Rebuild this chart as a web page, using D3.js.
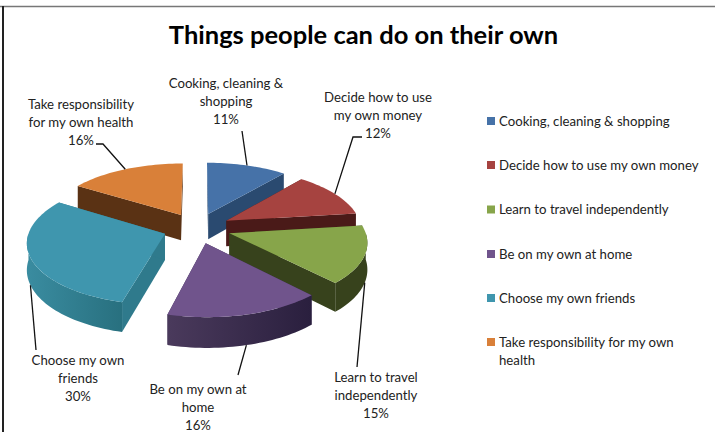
<!DOCTYPE html>
<html><head><meta charset="utf-8">
<script src="https://cdn.jsdelivr.net/npm/d3@7"></script>
<style>html,body{margin:0;padding:0;background:#fff;overflow:hidden}svg{display:block}text{font-family:Lato,"Open Sans",sans-serif;fill:#222}</style>
</head><body><svg id="c" width="715" height="432"></svg>
<script>
const categories = ["Cooking, cleaning & shopping","Decide how to use my own money","Learn to travel independently","Be on my own at home","Choose my own friends","Take responsibility for my own health"];
const values = [11,12,15,16,30,16];
const labelLines = [["Cooking, cleaning &","shopping"],["Decide how to use","my own money"],["Learn to travel","independently"],["Be on my own at","home"],["Choose my own","friends"],["Take responsibility","for my own health"]];
const legendLines = [["Cooking, cleaning & shopping"],["Decide how to use my own money"],["Learn to travel independently"],["Be on my own at home"],["Choose my own friends"],["Take responsibility for my own","health"]];
const topColors = ["#4672a8","#a64340","#87a54a","#70548c","#3f96ae","#d98039"];
const sideColors = ["#2a4a70","#4a1a18","#37421c","#3a2c50","#2f7a8c","#5a3214"];
const wallStart = ["#2a4a70","#4a1a18","#37421c","#4a3a5c","#3a8ca0","#5a3214"];
const wallEnd = ["#2a4a70","#4a1a18","#37421c","#2a1f3e","#28707f","#5a3214"];
const drawOrder = [5,0,1,2,4,3];
const labelCenter = [[226,83],[378,97],[376,377],[198,389],[78,360],[81,104]];
const leaderElbow = [[[242,131]],[[353,137],[362,137]],[[357,367]],[[238,375]],[[36,350]],[[103,144],[96,144]]];
const legendRows = [121,165,209.5,254,298,342];

const svg = d3.select("#c");
const cx=197, cy=228, R=135, explode=34, squash=0.45, persp=0.00091, depth=26;
const project=(X,Y,Z)=>{const f=1/(1+persp*Y);return [cx+X*f, cy-squash*Y*f+Z*f];};
const pie=d3.pie().sort(null).value(d=>d)(values);
const line=d3.line();
const polar=(d,r,a)=>{const m=(d.startAngle+d.endAngle)/2;return [explode*Math.sin(m)+r*Math.sin(a),explode*Math.cos(m)+r*Math.cos(a)];};
const angles=(a0,a1)=>{const n=Math.max(2,Math.ceil((a1-a0)/0.03));return d3.range(n+1).map(i=>a0+(a1-a0)*i/n);};
const pt=(d,r,a,z)=>{const p=polar(d,r,a);return project(p[0],p[1],z);};

// frame
svg.append("line").attr("x1",0).attr("x2",715).attr("y1",6.5).attr("y2",6.5).attr("stroke","#777").attr("stroke-width",1.5);
svg.append("line").attr("x1",3).attr("x2",3).attr("y1",6).attr("y2",432).attr("stroke","#222").attr("stroke-width",2);

svg.append("text").attr("x",363.5).attr("y",44).attr("text-anchor","middle").attr("font-size",25.5).attr("font-weight",700).style("fill","#000").text("Things people can do on their own");

const defs=svg.append("defs");
drawOrder.forEach(i=>{
  const d=pie[i];
  const g=svg.append("g");
  // radial side walls
  [d.startAngle,d.endAngle].forEach(a=>{
    g.append("path").attr("d",line([pt(d,0,a,0),pt(d,R,a,0),pt(d,R,a,depth),pt(d,0,a,depth)])+"Z").attr("fill",sideColors[i]);
  });
  // outer wall, only where it faces the viewer
  const a0=Math.max(d.startAngle,Math.PI/2), a1=Math.min(d.endAngle,Math.PI*1.5);
  if(a1>a0){
    const as=angles(a0,a1);
    const topEdge=as.map(a=>pt(d,R,a,0)), botEdge=as.map(a=>pt(d,R,a,depth)).reverse();
    const xs=d3.extent(topEdge,p=>p[0]);
    const id="w"+i;
    const gr=defs.append("linearGradient").attr("id",id).attr("gradientUnits","userSpaceOnUse").attr("x1",xs[0]).attr("x2",xs[1]).attr("y1",0).attr("y2",0);
    gr.append("stop").attr("offset",0).attr("stop-color",wallStart[i]);
    gr.append("stop").attr("offset",1).attr("stop-color",wallEnd[i]);
    g.append("path").attr("d",line(topEdge.concat(botEdge))+"Z").attr("fill",`url(#${id})`);
  }
  // top face
  const rim=angles(d.startAngle,d.endAngle).map(a=>pt(d,R,a,0));
  g.append("path").attr("d",line([pt(d,0,d.startAngle,0)].concat(rim))+"Z").attr("fill",topColors[i]);
});

// leader lines
pie.forEach((d,i)=>{
  const m=(d.startAngle+d.endAngle)/2;
  const front=Math.cos(m)<0;
  const start=pt(d,R,m,front?depth:0);
  svg.append("path").attr("d",line([start].concat(leaderElbow[i]))).attr("fill","none").attr("stroke","#111").attr("stroke-width",1.3);
});

// data labels
const fmt=v=>d3.format(".0f")(v)+"%";
pie.forEach((d,i)=>{
  const lines=labelLines[i].concat([fmt(values[i])]);
  const t=svg.append("text").attr("text-anchor","middle").attr("font-size",13.2);
  lines.forEach((s,j)=>t.append("tspan").attr("x",labelCenter[i][0]).attr("y",labelCenter[i][1]+4.5+j*18.2).text(s));
});

// legend
categories.forEach((c,i)=>{
  svg.append("rect").attr("x",487).attr("y",legendRows[i]-4).attr("width",8).attr("height",8).attr("fill",topColors[i]);
  const t=svg.append("text").attr("font-size",13.2);
  legendLines[i].forEach((s,j)=>t.append("tspan").attr("x",499).attr("y",legendRows[i]+4.5+j*18).text(s));
});
</script></body></html>
